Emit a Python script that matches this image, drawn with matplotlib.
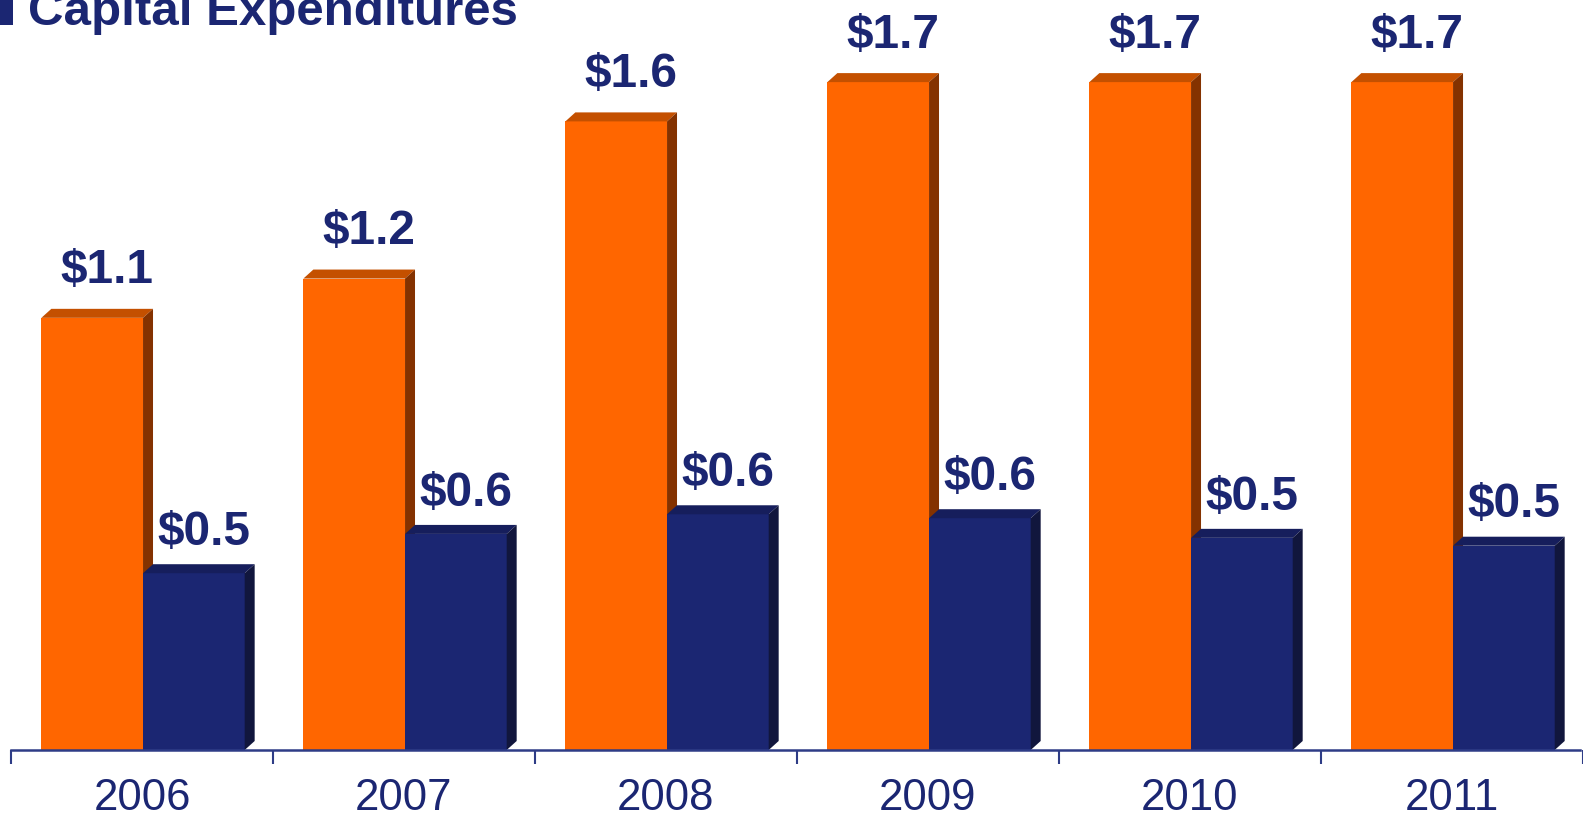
import matplotlib
matplotlib.use("Agg")
import matplotlib.pyplot as plt
from matplotlib.patches import Polygon, Rectangle
import numpy as np

plt.rcParams['font.family'] = ['Liberation Sans', 'DejaVu Sans']

years = ["2006", "2007", "2008", "2009", "2010", "2011"]
series_a = [1.10, 1.20, 1.60, 1.70, 1.70, 1.70]
series_b = [0.45, 0.55, 0.60, 0.59, 0.54, 0.52]
labels_a = ["$1.1", "$1.2", "$1.6", "$1.7", "$1.7", "$1.7"]
labels_b = ["$0.5", "$0.6", "$0.6", "$0.6", "$0.5", "$0.5"]
title = "Capital Expenditures"

NAVY = "#1B2672"
ORANGE = "#FF6600"
colors = {
    "a": (ORANGE, "#C45000", "#843200"),
    "b": (NAVY, "#161E5C", "#11163D"),
}

W, H = 1583, 816
fig = plt.figure(figsize=(W / 100, H / 100), dpi=100)
base_px = 66
ax = fig.add_axes([0, base_px / H, 1, (H - base_px) / H])
ymax = 1.909
group_px = 262.5
x0 = -0.5 - 11 / group_px
ax.set_xlim(x0, x0 + W / group_px)
ax.set_ylim(0, ymax)

ppu_y = (H - base_px) / ymax
dx = 10 / group_px
dy = 9 / ppu_y
bw = 0.388


def bar3d(x_left, h, key):
    front, top, side = colors[key]
    ax.add_patch(Rectangle((x_left, 0), bw, h, facecolor=front, edgecolor="none", zorder=2))
    ax.add_patch(Polygon([(x_left, h), (x_left + dx, h + dy), (x_left + bw + dx, h + dy), (x_left + bw, h)],
                         closed=True, facecolor=top, edgecolor="none", zorder=2))
    ax.add_patch(Polygon([(x_left + bw, 0), (x_left + bw + dx, dy), (x_left + bw + dx, h + dy), (x_left + bw, h)],
                         closed=True, facecolor=side, edgecolor="none", zorder=2))


idx = np.arange(len(years))
for i in idx:
    xa = i - 0.384
    xb = xa + bw
    bar3d(xa, series_a[i], "a")
    bar3d(xb, series_b[i], "b")
    ax.text(xa + bw / 2 + 0.055, series_a[i] + 0.088, labels_a[i], ha="center", va="baseline",
            fontsize=34.5, fontweight="bold", color=NAVY, zorder=3)
    ax.text(xb + bw / 2 + 0.04, series_b[i] + 0.072, labels_b[i], ha="center", va="baseline",
            fontsize=34.5, fontweight="bold", color=NAVY, zorder=3)

for s in ["top", "left", "right"]:
    ax.spines[s].set_visible(False)
ax.spines["bottom"].set_color("#2E3C86")
ax.spines["bottom"].set_linewidth(1.8)
ax.spines["bottom"].set_bounds(-0.5, x0 + W / group_px)
ax.set_yticks([])
ax.set_xticks(np.arange(len(years) + 1) - 0.5)
ax.set_xticklabels([])
ax.tick_params(axis="x", which="major", length=10, width=1.5, color="#2E3C86", direction="out")
ax.set_xticks(idx, minor=True)
ax.set_xticklabels(years, minor=True)
ax.tick_params(axis="x", which="minor", length=0, pad=20, labelsize=31.5, labelcolor=NAVY)
ax.patch.set_alpha(0)

fig.text(28 / W, 1 - 25 / H, title, ha="left", va="baseline", fontsize=35.5,
         fontweight="bold", color=NAVY)
fig.patches.append(Rectangle((0, 1 - 25 / H), 13 / W, 26 / H, transform=fig.transFigure,
                             facecolor=NAVY, edgecolor="none"))

fig.savefig("out.png", dpi=100, facecolor="white")
